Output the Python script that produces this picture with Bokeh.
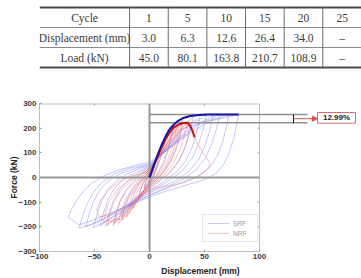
from bokeh.plotting import figure
from bokeh.layouts import column
from bokeh.models import Legend, LegendItem, Arrow, NormalHead, FixedTicker
from bokeh.core.properties import value
from bokeh.embed import file_html
from bokeh.resources import INLINE

# ---------------- table data ----------------
ROW_TITLES = ["Cycle", "Displacement (mm)", "Load (kN)"]
CYCLES = ["1", "5", "10", "15", "20", "25"]
DISPLACEMENT = ["3.0", "6.3", "12.6", "26.4", "34.0", "–"]
LOAD = ["45.0", "80.1", "163.8", "210.7", "108.9", "–"]

# ---------------- hysteresis data (displacement mm, force kN) ----------------
SRF_CYCLE_1 = [(0, 0), (2.5, 32), (5, 62), (4, 40), (2.5, 15), (0, -10), (-2.5, -26), (-5, -40), (-4, -24), (-2, -4), (0, 12)]
SRF_CYCLE_2 = [(0, 12), (3, 45), (6, 80), (10, 122), (9, 95), (7, 55), (4, 15), (1, -15), (-3, -40), (-7, -65), (-10, -82), (-9, -60), (-7, -35), (-4, -10), (0, 20)]
SRF_CYCLE_3 = [(0, 20), (4, 58), (9, 105), (15, 176), (13, 135), (10, 80), (6, 30), (2, -12), (-4, -45), (-10, -78), (-15, -105), (-18, -128), (-16, -95), (-13, -58), (-9, -25), (-4, 5), (0, 28)]
SRF_CYCLE_4 = [(0, 28), (5, 68), (11, 118), (17, 170), (22, 212), (20, 165), (17, 110), (13, 58), (7, 10), (0, -30), (-7, -62), (-14, -95), (-20, -128), (-25, -160), (-23, -120), (-19, -75), (-14, -35), (-8, -2), (0, 32)]
SRF_CYCLE_5 = [(0, 32), (6, 72), (13, 116), (21, 175), (30, 236), (28, 185), (25, 130), (20, 75), (13, 25), (5, -15), (-4, -48), (-13, -85), (-23, -135), (-32, -186), (-30, -140), (-26, -88), (-20, -42), (-12, -5), (-5, 20), (0, 38)]
SRF_CYCLE_6 = [(0, 38), (8, 80), (17, 128), (28, 192), (40, 248), (37, 190), (33, 128), (27, 70), (19, 22), (9, -16), (-2, -52), (-14, -95), (-27, -148), (-40, -198), (-37, -150), (-33, -95), (-27, -48), (-19, -10), (-10, 18), (0, 42)]
SRF_CYCLE_7 = [(0, 42), (9, 84), (19, 132), (31, 196), (46, 245), (43, 185), (39, 125), (33, 68), (24, 20), (12, -20), (-2, -58), (-16, -102), (-31, -152), (-45, -196), (-42, -145), (-38, -92), (-32, -45), (-24, -8), (-13, 20), (0, 45)]
SRF_CYCLE_8 = [(0, 45), (10, 88), (21, 138), (35, 200), (52, 255), (49, 200), (45, 140), (39, 80), (30, 28), (18, -12), (4, -48), (-10, -88), (-25, -138), (-40, -178), (-51, -204), (-48, -155), (-44, -100), (-38, -50), (-30, -12), (-18, 20), (-8, 38), (0, 48)]
SRF_CYCLE_9 = [(0, 48), (11, 92), (23, 143), (39, 206), (58, 252), (55, 195), (51, 135), (45, 76), (36, 26), (24, -12), (8, -46), (-8, -80), (-25, -125), (-42, -168), (-58, -200), (-55, -150), (-51, -98), (-45, -50), (-37, -12), (-25, 18), (-12, 38), (0, 52)]
SRF_CYCLE_10 = [(0, 52), (12, 95), (25, 148), (42, 212), (64, 255), (61, 200), (57, 140), (51, 80), (42, 30), (30, -8), (15, -40), (0, -72), (-18, -112), (-36, -155), (-52, -190), (-64, -204), (-61, -160), (-57, -110), (-51, -60), (-43, -18), (-32, 14), (-18, 38), (0, 55)]
SRF_CYCLE_11 = [(0, 55), (13, 100), (28, 155), (47, 220), (72, 255), (70, 210), (67, 150), (62, 90), (55, 42), (45, 8), (30, -20), (12, -50), (-8, -88), (-28, -130), (-48, -168), (-64, -192), (-74, -162), (-71, -130), (-66, -92), (-60, -55), (-52, -22), (-42, 6), (-28, 30), (-14, 48), (0, 62)]
SRF_CYCLE_12 = [(0, 62), (15, 108), (32, 165), (54, 228), (81, 255), (79, 210), (76, 150), (72, 95), (67, 50), (60, 15), (48, -12), (32, -32), (15, -55), (0, -80), (-20, -115)]

NRF_CYCLE_1 = [(0, 0), (2.5, 30), (5, 58), (4, 38), (2.5, 14), (0, -8), (-2.5, -26), (-5, -44), (-4, -26), (-2, -6), (0, 10)]
NRF_CYCLE_2 = [(0, 10), (3, 40), (6, 75), (10, 118), (9, 92), (7, 54), (4, 16), (1, -12), (-3, -36), (-7, -64), (-10, -86), (-9, -62), (-7, -36), (-4, -10), (0, 16)]
NRF_CYCLE_3 = [(0, 16), (4, 52), (9, 100), (15, 166), (13, 128), (10, 78), (6, 30), (2, -10), (-4, -45), (-10, -86), (-15, -126), (-14, -95), (-11, -58), (-7, -24), (-3, 2), (0, 20)]
NRF_CYCLE_4 = [(0, 20), (5, 60), (10, 105), (15, 152), (20, 198), (19, 155), (16, 105), (12, 55), (6, 8), (0, -25), (-7, -65), (-14, -112), (-21, -162), (-19, -118), (-16, -72), (-11, -32), (-5, 0), (0, 24)]
NRF_CYCLE_5 = [(0, 24), (6, 66), (12, 112), (18, 162), (25, 210), (23, 165), (20, 110), (15, 55), (8, 8), (0, -28), (-8, -75), (-15, -120), (-20, -150), (-23, -162), (-26, -178), (-28, -186), (-26, -140), (-22, -92), (-16, -48), (-9, -14), (-3, 8), (0, 28)]
NRF_CYCLE_6 = [(0, 26), (6, 68), (13, 118), (20, 168), (27, 212), (25, 160), (21, 100), (16, 50), (9, 6), (1, -30), (-7, -72), (-14, -112), (-19, -140), (-22, -150), (-25, -172), (-23, -128), (-19, -84), (-13, -40), (-6, -8), (0, 30)]
NRF_CYCLE_7 = [(0, 28), (7, 72), (14, 120), (21, 172), (30, 218), (28, 170), (24, 112), (19, 58), (11, 10), (2, -26), (-8, -75), (-17, -122), (-23, -155), (-27, -172), (-30, -168), (-33, -196), (-31, -150), (-27, -100), (-21, -54), (-13, -16), (-5, 10), (0, 32)]
NRF_CYCLE_8 = [(0, 32), (8, 78), (16, 128), (25, 185), (34.5, 222), (32, 172), (28, 115), (22, 60), (14, 14), (4, -24), (-8, -78), (-19, -128), (-26, -160), (-31, -182), (-34, -176), (-38, -192), (-36, -148), (-32, -98), (-26, -52), (-17, -14), (-8, 12), (0, 36)]
NRF_CYCLE_9 = [(0, 34), (9, 82), (18, 136), (28, 190), (37, 214), (35, 165), (31, 108), (25, 55), (16, 10), (5, -24), (-8, -80), (-20, -130), (-29, -165), (-35, -178), (-39, -172), (-42, -184), (-40, -140), (-36, -92), (-29, -48), (-19, -12), (-9, 12), (0, 38)]
NRF_CYCLE_10 = [(0, 36), (9, 85), (19, 140), (29, 192), (36, 210), (39, 190), (41, 163), (44, 135), (48, 105), (52, 78), (55, 58), (54, 42), (50, 22), (43, 2), (32, -20), (18, -34), (5, -42), (-8, -70), (-22, -115), (-36, -150), (-46, -160), (-48, -130), (-44, -88), (-37, -48), (-27, -16), (-15, 8), (0, 22)]

SRF_ENV_X = [0, 3, 6, 9, 12, 15, 18, 22, 26, 30, 37, 45, 53, 62, 72, 81]
SRF_ENV_Y = [0, 38, 76, 110, 142, 170, 194, 214, 230, 240, 249, 253, 255, 255, 255, 255]
NRF_ENV_X = [0, 3, 6, 9, 12, 15, 18, 22, 26, 30, 34.5, 37, 39, 41]
NRF_ENV_Y = [0, 35, 70, 102, 132, 158, 180, 202, 214, 220, 222, 210, 190, 163]

PEAK_DROP_PCT = 12.99

X_TICKS = [-100, -50, 0, 50, 100]
Y_TICKS = [-300, -200, -100, 0, 100, 200, 300]

SRF_LOOPS = [SRF_CYCLE_1, SRF_CYCLE_2, SRF_CYCLE_3, SRF_CYCLE_4, SRF_CYCLE_5, SRF_CYCLE_6,
             SRF_CYCLE_7, SRF_CYCLE_8, SRF_CYCLE_9, SRF_CYCLE_10, SRF_CYCLE_11, SRF_CYCLE_12]
NRF_LOOPS = [NRF_CYCLE_1, NRF_CYCLE_2, NRF_CYCLE_3, NRF_CYCLE_4, NRF_CYCLE_5,
             NRF_CYCLE_6, NRF_CYCLE_7, NRF_CYCLE_8, NRF_CYCLE_9, NRF_CYCLE_10]

SERIF = "Liberation Serif"
SANS = "Liberation Sans"

# ---------------- table figure ----------------
W = 361
TH = 75
t = figure(width=W, height=TH, x_range=(0, W), y_range=(TH, 0),
           toolbar_location=None, output_backend="svg", min_border=0)
t.axis.visible = False
t.grid.visible = False
t.outline_line_color = None
t.background_fill_color = "white"
t.border_fill_color = "white"

first_w = 101
col_w = (W - first_w) / len(CYCLES)
edges = [0, first_w] + [first_w + col_w * (i + 1) for i in range(len(CYCLES))]
row_top, row_h = 7, 20
row_edges = [row_top + row_h * i for i in range(4)]

# horizontal rules
t.segment(x0=[0, 0], y0=[row_edges[0], row_edges[3]], x1=[W, W], y1=[row_edges[0], row_edges[3]],
          line_color="#4a4a4a", line_width=2)
t.segment(x0=[0, 0], y0=row_edges[1:3], x1=[W, W], y1=row_edges[1:3],
          line_color="#8a8a8a", line_width=1)
# vertical rules
inner = edges[1:-1]
t.segment(x0=inner, y0=[row_edges[0]] * len(inner), x1=inner, y1=[row_edges[3]] * len(inner),
          line_color="#6a6a6a", line_width=1)

centers_x = [(edges[i] + edges[i + 1]) / 2 for i in range(len(edges) - 1)]
rows = [[ROW_TITLES[0]] + CYCLES, [ROW_TITLES[1]] + DISPLACEMENT, [ROW_TITLES[2]] + LOAD]
tx, ty, tt = [], [], []
for r, cells in enumerate(rows):
    for c, txt in enumerate(cells):
        tx.append(centers_x[c])
        ty.append(row_edges[r] + row_h / 2 + 0.5)
        tt.append(txt)
t.text(x=tx, y=ty, text=tt, text_align="center", text_baseline="middle",
       text_font=value(SERIF), text_font_size="11.5px", text_color="#3a3a3a")

# ---------------- hysteresis figure ----------------
PH = 278 - TH
frame_left, frame_top, frame_h = 39, 28, 153
px_per_x = 1.1
x_end = -100 + (W - frame_left) / px_per_x

p = figure(width=W, height=PH, x_range=(-100, x_end), y_range=(-300, 300),
           toolbar_location=None, output_backend="svg",
           min_border_left=frame_left, min_border_right=0,
           min_border_top=frame_top, min_border_bottom=PH - frame_top - frame_h)
p.grid.visible = False
p.outline_line_color = None
p.background_fill_color = "white"
p.border_fill_color = "white"

for ax in (p.xaxis, p.yaxis):
    ax.axis_line_color = "#bdbdbd"
    ax.major_tick_line_color = "#9a9a9a"
    ax.major_tick_in = 2
    ax.major_tick_out = 0
    ax.minor_tick_line_color = None
    ax.major_label_text_font = SANS
    ax.major_label_text_font_style = "bold"
    ax.major_label_text_font_size = "8px"
    ax.major_label_text_color = "#3c3c3c"
    ax.axis_label_text_font = SANS
    ax.axis_label_text_font_style = "bold"
    ax.axis_label_text_font_size = "8.5px"
    ax.axis_label_text_color = "#222222"

p.xaxis.ticker = FixedTicker(ticks=X_TICKS)
p.xaxis.bounds = (X_TICKS[0], X_TICKS[-1])
p.xaxis.major_label_standoff = 2
p.xaxis.axis_label = "Displacement (mm)"
p.xaxis.axis_label_standoff = 4

p.yaxis.ticker = FixedTicker(ticks=Y_TICKS)
p.yaxis.major_label_standoff = 3
p.yaxis.axis_label = "Force (kN)"
p.yaxis.axis_label_standoff = -4

# box top and right edges with inner ticks
xmin, xmax = X_TICKS[0], X_TICKS[-1]
ymin, ymax = Y_TICKS[0], Y_TICKS[-1]
p.segment(x0=[xmin], y0=[ymax], x1=[xmax], y1=[ymax], line_color="#bdbdbd", line_width=2)
p.segment(x0=[xmax], y0=[ymin], x1=[xmax], y1=[ymax], line_color="#bdbdbd", line_width=1)
rt = Y_TICKS[1:-1]
p.segment(x0=[xmax] * len(rt), y0=rt, x1=[xmax - 2 / px_per_x] * len(rt), y1=rt,
          line_color="#9a9a9a", line_width=1)
tt_x = X_TICKS[1:-1]
p.segment(x0=tt_x, y0=[ymax] * len(tt_x), x1=tt_x, y1=[ymax - 8] * len(tt_x),
          line_color="#9a9a9a", line_width=1)

# cyclic loops
srf_r = p.multi_line(xs=[[pt[0] for pt in lp] for lp in SRF_LOOPS],
                     ys=[[pt[1] for pt in lp] for lp in SRF_LOOPS],
                     line_color="#7878ee", line_alpha=0.42, line_width=1)
nrf_r = p.multi_line(xs=[[pt[0] for pt in lp] for lp in NRF_LOOPS],
                     ys=[[pt[1] for pt in lp] for lp in NRF_LOOPS],
                     line_color="#ee6e6e", line_alpha=0.42, line_width=1)

# zero axes
p.segment(x0=[xmin, 0], y0=[0, ymin], x1=[xmax, 0], y1=[0, ymax],
          line_color="#9a9a9a", line_width=2)

# peak reference lines and drop marker
srf_peak = max(SRF_ENV_Y)
nrf_level = srf_peak * (1 - PEAK_DROP_PCT / 100)
line_end = (307 - 149) / px_per_x
mark_x = (293 - 149) / px_per_x
box_l = (317 - 149) / px_per_x
box_r = (355 - 149) / px_per_x
p.segment(x0=[0, 0], y0=[srf_peak, nrf_level], x1=[line_end, line_end], y1=[srf_peak, nrf_level],
          line_color="#8f8f8f", line_width=1.5)
p.segment(x0=[mark_x], y0=[nrf_level], x1=[mark_x], y1=[srf_peak], line_color="#111111", line_width=1)
mid = (srf_peak + nrf_level) / 2
p.add_layout(Arrow(x_start=mark_x, y_start=mid, x_end=box_l, y_end=mid,
                   line_color="#e05050", line_width=1,
                   end=NormalHead(size=5, fill_color="#e05050", line_color="#e05050")))
p.quad(left=[box_l], right=[box_r], bottom=[mid - 18], top=[mid + 25],
       fill_color="white", line_color="#d86a6a", line_width=1)
p.text(x=[(box_l + box_r) / 2], y=[mid + 3.5], text=[f"{PEAK_DROP_PCT:.2f}%"],
       text_align="center", text_baseline="middle", text_font=value(SANS),
       text_font_style="bold", text_font_size="8px", text_color="#222222")

# envelopes
p.line(NRF_ENV_X, NRF_ENV_Y, line_color="#cc1111", line_width=2)
p.line(SRF_ENV_X, SRF_ENV_Y, line_color="#1515a5", line_width=2)

legend = Legend(items=[LegendItem(label="SRF", renderers=[srf_r]),
                       LegendItem(label="NRF", renderers=[nrf_r])],
                location=(163, 9), orientation="vertical",
                glyph_width=22, glyph_height=8, label_height=8, label_standoff=4,
                padding=4, spacing=2, margin=0,
                border_line_color="#cfcfcf", background_fill_color="white",
                label_text_font=SANS, label_text_font_size="6.5px", label_text_color="#9a9a9a")
p.add_layout(legend)

layout = column(t, p, spacing=0)
open("out.html", "w").write(file_html(layout, INLINE))
